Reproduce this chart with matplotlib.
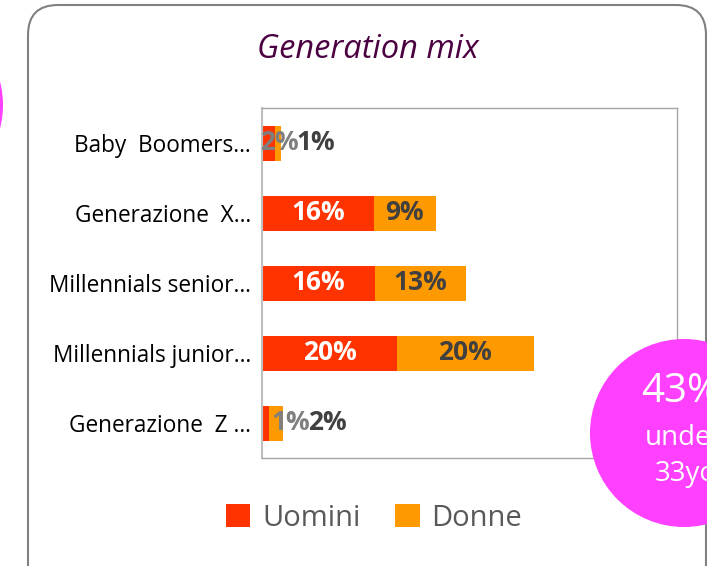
import numpy as np
import matplotlib.pyplot as plt
from matplotlib.patches import FancyBboxPatch, Circle

# Data (shares in %, labels show them rounded)
categories = ["Baby  Boomers…", "Generazione  X…", "Millennials senior…",
              "Millennials junior…", "Generazione  Z …"]
uomini = [1.9, 16.2, 16.3, 19.5, 1.0]
donne = [0.9, 8.9, 13.2, 19.8, 2.0]
series_names = ["Uomini", "Donne"]

# label shifts (pixels) for the tiny segments, Excel pushes them right
shift_u = [11, 0, 0, 0, 25]
shift_d = [37, 0, 0, 0, 52]

c_u = "#FF3300"
c_d = "#FF9900"
pink = "#FF40FF"
font = "Open Sans"

W, H = 707, 566
fig = plt.figure(figsize=(W / 100, H / 100), dpi=100)

# rounded frame (figure pixel coords)
bg = fig.add_axes([0, 0, 1, 1])
bg.set_xlim(0, W)
bg.set_ylim(H, 0)
bg.axis("off")
bg.add_patch(FancyBboxPatch((28, 5), 678, 600, boxstyle="round,pad=0,rounding_size=30",
                            fc="white", ec="#808080", lw=1.5))
bg.add_patch(Circle((-92, 105), 95, fc=pink, ec="none"))
bg.text(368, 50, "Generation mix", color="#4B0042", fontsize=23.5, style="italic",
        ha="center", va="center", family=font)

ax = fig.add_axes([262 / W, (H - 458) / H, 415 / W, 350 / H])
ax.set_zorder(2)
y = np.arange(len(categories))
b1 = ax.barh(y, uomini, height=0.5, color=c_u, label=series_names[0])
b2 = ax.barh(y, donne, left=uomini, height=0.5, color=c_d, label=series_names[1])
ax.set_xlim(0, 60)
ax.set_ylim(len(categories) - 0.5, -0.5)
ax.set_xticks([])
ax.set_yticks(y)
ax.set_yticklabels(categories, family=font, fontsize=16.3, color="#000000")
ax.tick_params(axis="y", length=0, pad=8)
for s in ax.spines.values():
    s.set_color("#a6a6a6")
    s.set_linewidth(1)
ax.spines["left"].set_color("#bfbfbf")
ax.spines["left"].set_linewidth(1.5)

for i in range(len(categories)):
    small = uomini[i] < 5
    ax.annotate(f"{uomini[i]:.0f}%", (uomini[i] / 2, y[i]), xytext=(shift_u[i], 0),
                textcoords="offset pixels", ha="center", va="center",
                color="#7f7f7f" if small else "white", fontsize=19, fontweight="bold",
                family=font)
    ax.annotate(f"{donne[i]:.0f}%", (uomini[i] + donne[i] / 2, y[i]), xytext=(shift_d[i], 0),
                textcoords="offset pixels", ha="center", va="center",
                color="#404040", fontsize=19, fontweight="bold", family=font)

leg = fig.legend(handles=[b1, b2], labels=series_names, loc="center",
                 bbox_to_anchor=(374 / W, 1 - 518 / H), ncol=2, frameon=False,
                 prop={"family": font, "size": 21}, handlelength=0.83, handleheight=0.83,
                 handletextpad=0.4, columnspacing=1.2)
for t in leg.get_texts():
    t.set_color("#595959")

# bubble on the right, on top of the chart
top = fig.add_axes([0, 0, 1, 1])
top.set_zorder(5)
top.set_xlim(0, W)
top.set_ylim(H, 0)
top.axis("off")
top.add_patch(Circle((684, 433), 94, fc=pink, ec="none"))
top.text(681, 392, "43%", color="white", fontsize=29, ha="center", va="center",
         family=font)
top.text(684, 438, "under", color="white", fontsize=20, ha="center", va="center",
         family=font)
top.text(686, 474, "33yo", color="white", fontsize=20, ha="center", va="center",
         family=font)

fig.savefig("out.png", dpi=100)
